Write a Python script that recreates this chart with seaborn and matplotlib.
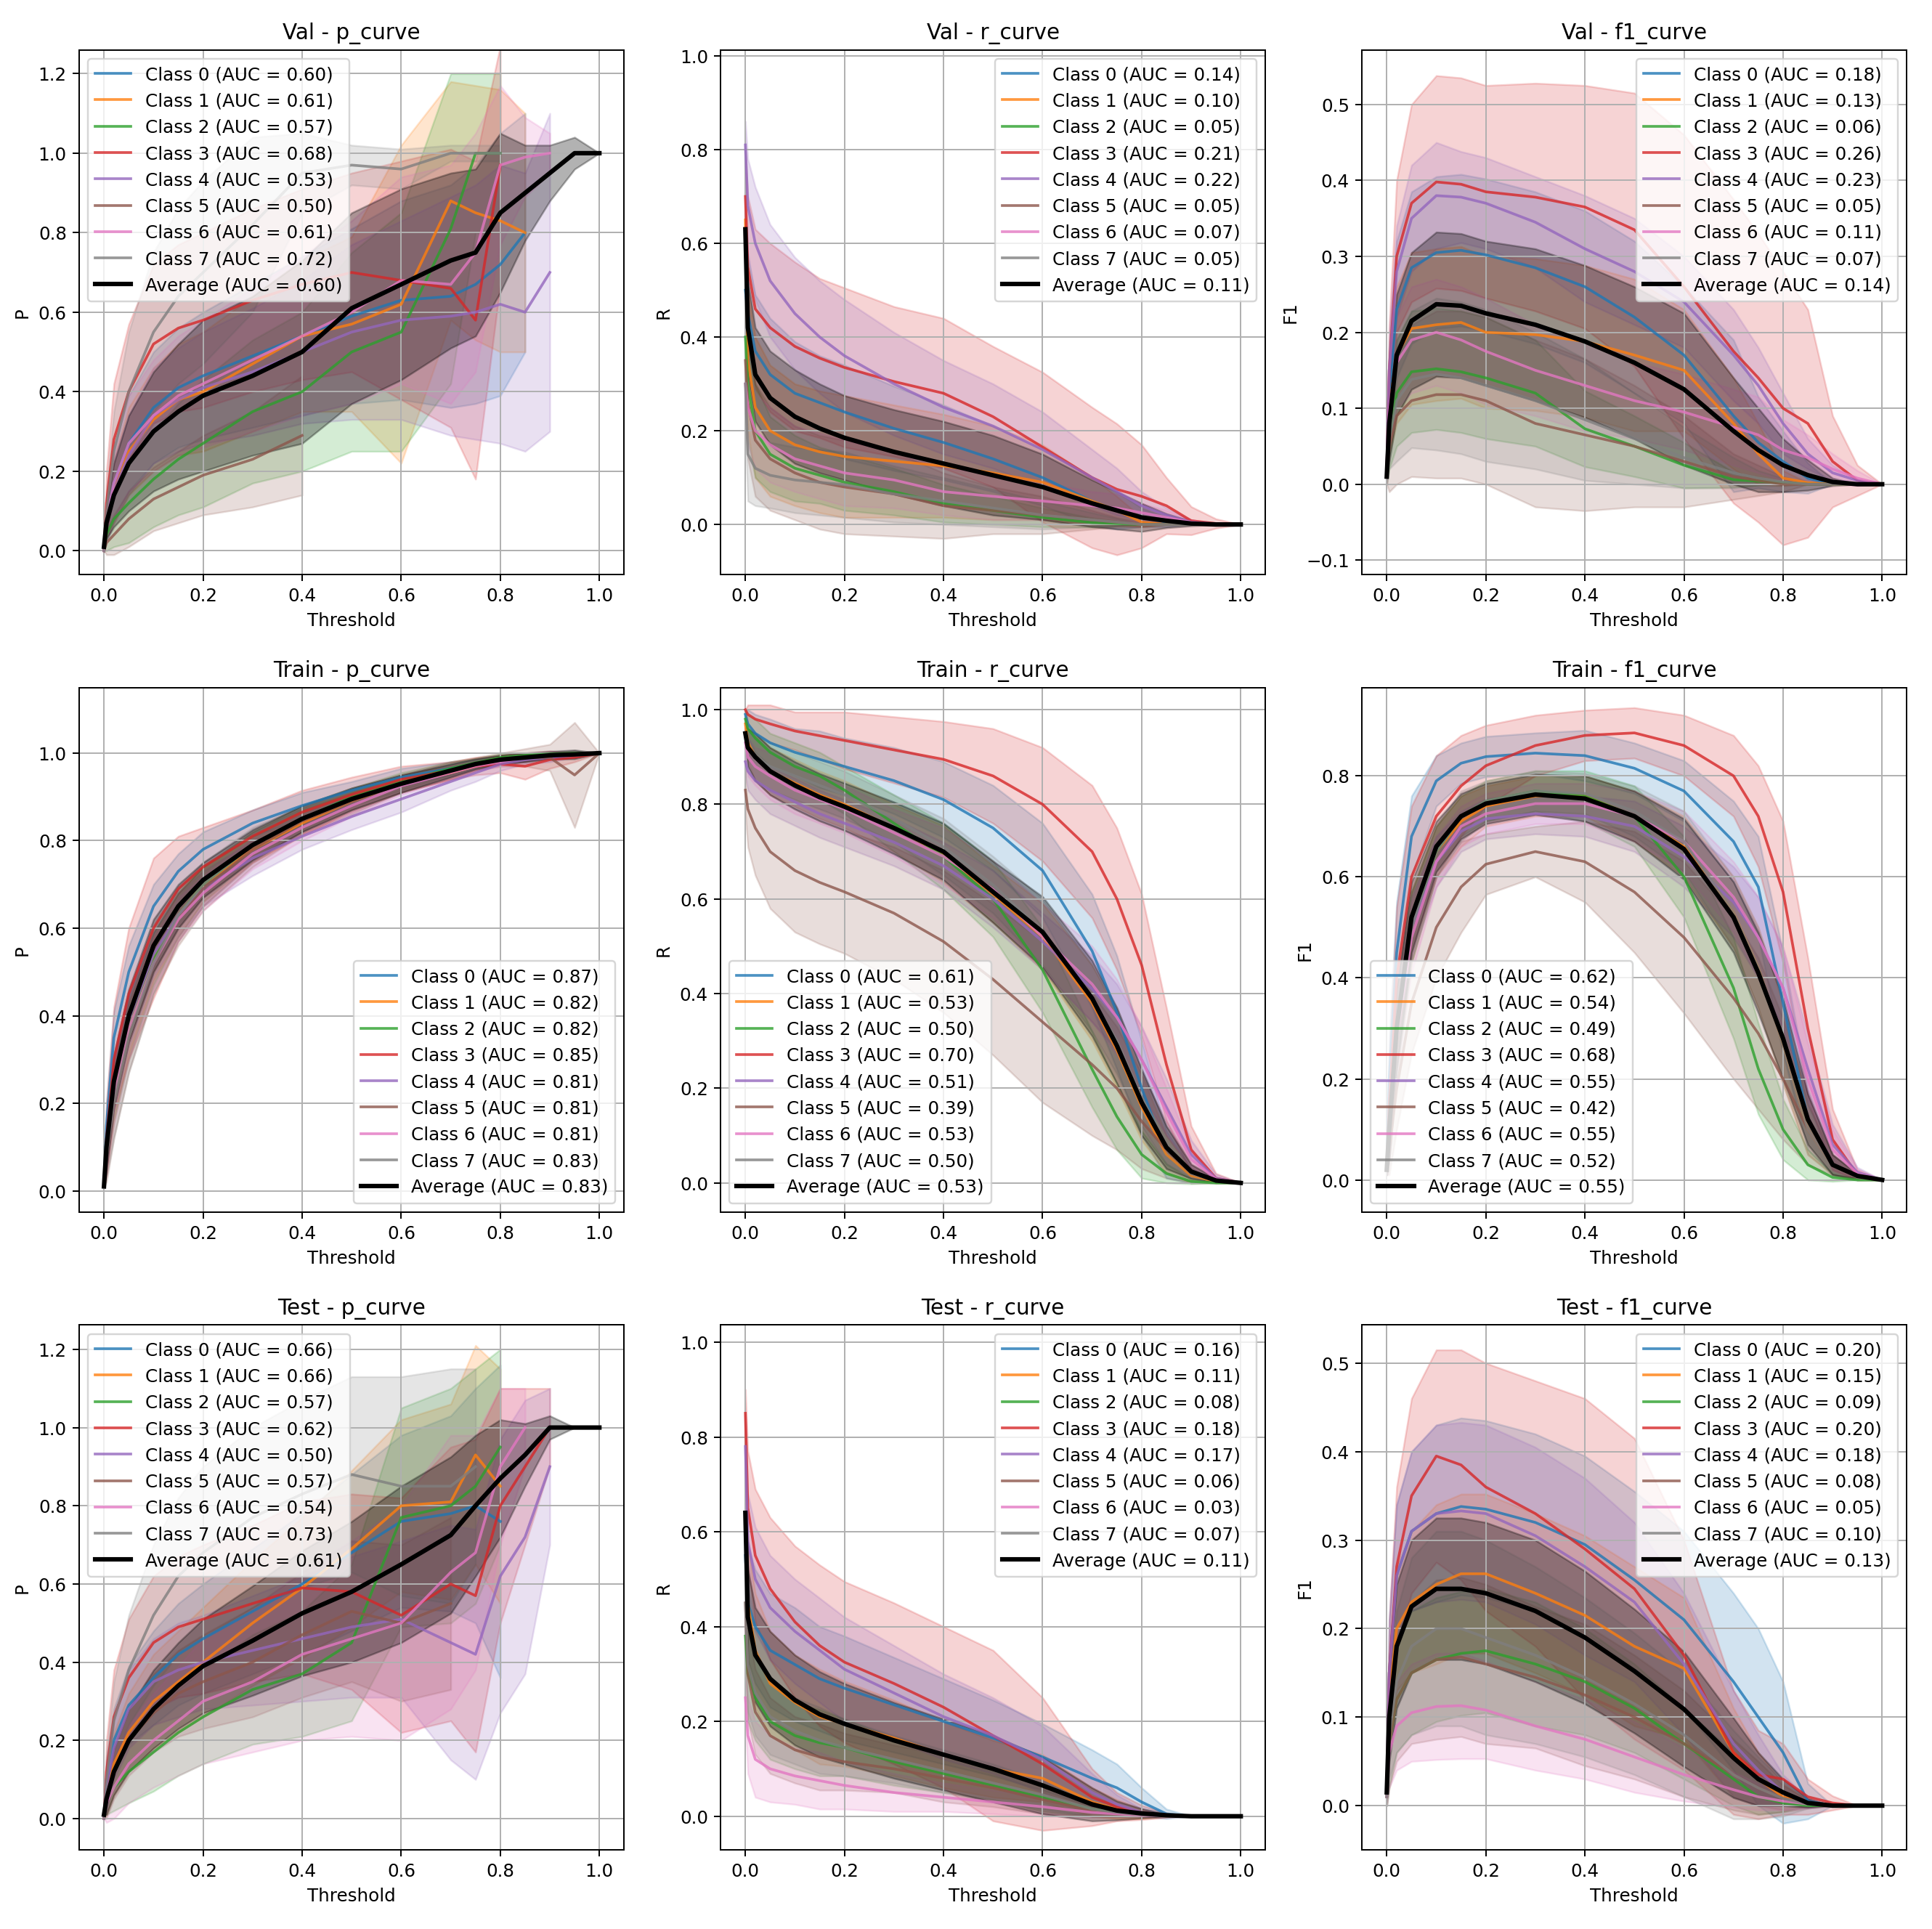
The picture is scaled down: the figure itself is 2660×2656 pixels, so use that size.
import numpy as np
import matplotlib
matplotlib.use("Agg")
import matplotlib.pyplot as plt
import seaborn as sns

nan = np.nan

# threshold grid shared by every curve
thresholds = [0, 0.005, 0.02, 0.05, 0.1, 0.15, 0.2, 0.3, 0.4, 0.5, 0.6, 0.7, 0.75, 0.8, 0.85, 0.9, 0.95, 1.0]
splits = ["Val", "Train", "Test"]
curves = ["p_curve", "r_curve", "f1_curve"]
ylabels = ["P", "R", "F1"]

# ---------------- Val ----------------
val_p_auc = [0.60, 0.61, 0.57, 0.68, 0.53, 0.50, 0.61, 0.72, 0.60]
val_p_mean = [
    [0.0, 0.08, 0.17, 0.27, 0.36, 0.41, 0.44, 0.49, 0.54, 0.59, 0.63, 0.64, 0.67, 0.72, 0.80, nan, nan, nan],
    [0.0, 0.07, 0.15, 0.25, 0.33, 0.38, 0.40, 0.47, 0.54, 0.57, 0.62, 0.88, 0.85, 0.83, 0.80, nan, nan, nan],
    [0.0, 0.04, 0.08, 0.12, 0.18, 0.23, 0.27, 0.35, 0.40, 0.50, 0.55, 0.81, 1.0, 1.0, nan, nan, nan, nan],
    [0.0, 0.12, 0.28, 0.40, 0.52, 0.56, 0.58, 0.63, 0.67, 0.70, 0.68, 0.66, 0.58, 0.97, nan, nan, nan, nan],
    [0.0, 0.07, 0.15, 0.24, 0.34, 0.38, 0.41, 0.45, 0.50, 0.55, 0.58, 0.59, 0.60, 0.62, 0.60, 0.70, nan, nan],
    [0.0, 0.02, 0.04, 0.08, 0.13, 0.16, 0.19, 0.23, 0.29, nan, nan, nan, nan, nan, nan, nan, nan, nan],
    [0.0, 0.08, 0.17, 0.27, 0.34, 0.39, 0.42, 0.48, 0.54, 0.60, 0.68, 0.67, 0.75, 0.97, 0.99, 1.0, nan, nan],
    [0.0, 0.10, 0.25, 0.40, 0.55, 0.64, 0.70, 0.82, 0.95, 0.97, 0.96, 1.0, 1.0, 1.0, nan, nan, nan, nan],
    [0.01, 0.07, 0.14, 0.22, 0.30, 0.35, 0.39, 0.44, 0.50, 0.61, 0.67, 0.73, 0.75, 0.85, 0.90, 0.95, 1.0, 1.0],
]
val_p_std = [
    [0.0, 0.05, 0.09, 0.12, 0.14, 0.15, 0.16, 0.18, 0.20, 0.22, 0.25, 0.28, 0.30, 0.33, 0.30, 0, 0, 0],
    [0.0, 0.04, 0.08, 0.11, 0.13, 0.14, 0.15, 0.17, 0.19, 0.22, 0.40, 0.30, 0.32, 0.33, 0.30, 0, 0, 0],
    [0.0, 0.04, 0.07, 0.10, 0.12, 0.14, 0.16, 0.18, 0.20, 0.25, 0.30, 0.39, 0.20, 0.20, 0, 0, 0, 0],
    [0.0, 0.08, 0.14, 0.17, 0.20, 0.21, 0.22, 0.23, 0.24, 0.25, 0.30, 0.35, 0.40, 0.30, 0, 0, 0, 0],
    [0.0, 0.05, 0.08, 0.10, 0.12, 0.13, 0.14, 0.16, 0.18, 0.22, 0.25, 0.30, 0.32, 0.35, 0.35, 0.40, 0, 0],
    [0.0, 0.03, 0.05, 0.07, 0.08, 0.09, 0.10, 0.12, 0.15, 0, 0, 0, 0, 0, 0, 0, 0, 0],
    [0.0, 0.05, 0.09, 0.12, 0.14, 0.15, 0.16, 0.18, 0.20, 0.23, 0.26, 0.30, 0.30, 0.20, 0.10, 0.05, 0, 0],
    [0.0, 0.05, 0.10, 0.15, 0.20, 0.22, 0.23, 0.22, 0.10, 0.05, 0.05, 0.02, 0.02, 0.02, 0, 0, 0, 0],
    [0.0, 0.04, 0.08, 0.12, 0.15, 0.17, 0.19, 0.20, 0.23, 0.24, 0.24, 0.22, 0.21, 0.20, 0.12, 0.07, 0.04, 0.0],
]

val_r_auc = [0.14, 0.10, 0.05, 0.21, 0.22, 0.05, 0.07, 0.05, 0.11]
val_r_mean = [
    [0.50, 0.45, 0.37, 0.32, 0.28, 0.26, 0.24, 0.205, 0.175, 0.14, 0.10, 0.05, 0.03, 0.015, 0.005, 0, 0, 0],
    [0.65, 0.35, 0.25, 0.20, 0.17, 0.155, 0.145, 0.135, 0.125, 0.11, 0.09, 0.05, 0.03, 0.005, 0, 0, 0, 0],
    [0.40, 0.30, 0.20, 0.15, 0.12, 0.105, 0.09, 0.07, 0.045, 0.03, 0.015, 0.004, 0.002, 0, 0, 0, 0, 0],
    [0.70, 0.55, 0.46, 0.42, 0.38, 0.355, 0.335, 0.305, 0.28, 0.23, 0.165, 0.10, 0.075, 0.06, 0.04, 0.008, 0.002, 0],
    [0.81, 0.68, 0.60, 0.52, 0.45, 0.40, 0.36, 0.30, 0.25, 0.21, 0.16, 0.10, 0.07, 0.04, 0.02, 0.005, 0.001, 0],
    [0.35, 0.26, 0.18, 0.14, 0.11, 0.09, 0.08, 0.065, 0.04, 0.03, 0.02, 0.01, 0.005, 0, 0, 0, 0, 0],
    [0.30, 0.25, 0.20, 0.17, 0.14, 0.125, 0.11, 0.095, 0.07, 0.06, 0.05, 0.04, 0.035, 0.025, 0.015, 0.005, 0.001, 0],
    [0.30, 0.15, 0.12, 0.105, 0.095, 0.09, 0.085, 0.065, 0.05, 0.035, 0.02, 0.01, 0.005, 0, 0, 0, 0, 0],
    [0.63, 0.42, 0.32, 0.27, 0.23, 0.205, 0.185, 0.155, 0.13, 0.105, 0.08, 0.045, 0.03, 0.015, 0.008, 0.002, 0, 0],
]
val_r_std = [
    [0.10, 0.12, 0.12, 0.12, 0.11, 0.10, 0.10, 0.09, 0.08, 0.07, 0.06, 0.05, 0.04, 0.02, 0.01, 0, 0, 0],
    [0.10, 0.15, 0.15, 0.14, 0.13, 0.13, 0.13, 0.12, 0.11, 0.10, 0.08, 0.05, 0.03, 0.01, 0, 0, 0, 0],
    [0.10, 0.12, 0.10, 0.08, 0.07, 0.06, 0.06, 0.05, 0.04, 0.03, 0.02, 0.01, 0.005, 0, 0, 0, 0, 0],
    [0.10, 0.15, 0.17, 0.18, 0.18, 0.17, 0.17, 0.16, 0.16, 0.15, 0.16, 0.15, 0.14, 0.11, 0.06, 0.03, 0.01, 0],
    [0.05, 0.10, 0.12, 0.12, 0.12, 0.12, 0.12, 0.11, 0.10, 0.09, 0.08, 0.06, 0.05, 0.03, 0.015, 0.005, 0, 0],
    [0.10, 0.12, 0.12, 0.11, 0.10, 0.10, 0.10, 0.09, 0.07, 0.05, 0.04, 0.02, 0.01, 0.005, 0, 0, 0, 0],
    [0.05, 0.08, 0.08, 0.08, 0.07, 0.07, 0.07, 0.06, 0.05, 0.05, 0.04, 0.03, 0.03, 0.02, 0.015, 0.005, 0, 0],
    [0.10, 0.10, 0.08, 0.07, 0.07, 0.07, 0.07, 0.06, 0.05, 0.04, 0.03, 0.015, 0.008, 0, 0, 0, 0, 0],
    [0.0, 0.10, 0.10, 0.10, 0.10, 0.095, 0.09, 0.09, 0.09, 0.085, 0.07, 0.05, 0.04, 0.03, 0.015, 0.005, 0, 0],
]

val_f1_auc = [0.18, 0.13, 0.06, 0.26, 0.23, 0.05, 0.11, 0.07, 0.14]
val_f1_mean = [
    [0.02, 0.12, 0.23, 0.285, 0.305, 0.308, 0.302, 0.285, 0.26, 0.22, 0.17, 0.09, 0.055, 0.03, 0.008, 0, 0, 0],
    [0.02, 0.10, 0.17, 0.205, 0.21, 0.213, 0.20, 0.197, 0.188, 0.17, 0.15, 0.08, 0.04, 0.008, 0.002, 0, 0, 0],
    [0.01, 0.06, 0.12, 0.148, 0.152, 0.148, 0.14, 0.12, 0.073, 0.05, 0.025, 0.006, 0.004, 0.002, 0, 0, 0, 0],
    [0.02, 0.15, 0.30, 0.37, 0.398, 0.395, 0.385, 0.378, 0.365, 0.335, 0.26, 0.175, 0.14, 0.10, 0.08, 0.03, 0.005, 0],
    [0.02, 0.15, 0.28, 0.35, 0.38, 0.378, 0.37, 0.345, 0.31, 0.28, 0.24, 0.17, 0.13, 0.08, 0.04, 0.015, 0.005, 0],
    [0.01, 0.05, 0.09, 0.11, 0.118, 0.118, 0.11, 0.08, 0.065, 0.05, 0.03, 0.01, 0.005, 0, 0, 0, 0, 0],
    [0.01, 0.10, 0.16, 0.19, 0.20, 0.19, 0.175, 0.15, 0.13, 0.11, 0.095, 0.075, 0.065, 0.045, 0.035, 0.02, 0.008, 0],
    [0.01, 0.06, 0.11, 0.138, 0.145, 0.14, 0.13, 0.11, 0.085, 0.06, 0.035, 0.015, 0.008, 0.003, 0, 0, 0, 0],
    [0.01, 0.08, 0.17, 0.215, 0.237, 0.235, 0.225, 0.21, 0.188, 0.16, 0.125, 0.07, 0.045, 0.025, 0.012, 0.003, 0, 0],
]
val_f1_std = [
    [0.01, 0.06, 0.09, 0.10, 0.10, 0.10, 0.10, 0.10, 0.10, 0.10, 0.09, 0.10, 0.06, 0.04, 0.02, 0, 0, 0],
    [0.01, 0.06, 0.09, 0.10, 0.10, 0.10, 0.10, 0.10, 0.10, 0.10, 0.08, 0.06, 0.04, 0.01, 0, 0, 0, 0],
    [0.01, 0.04, 0.07, 0.08, 0.08, 0.08, 0.08, 0.07, 0.05, 0.04, 0.03, 0.01, 0.005, 0, 0, 0, 0, 0],
    [0.01, 0.06, 0.10, 0.13, 0.14, 0.14, 0.14, 0.15, 0.16, 0.18, 0.20, 0.20, 0.19, 0.18, 0.15, 0.06, 0.02, 0],
    [0.01, 0.05, 0.06, 0.07, 0.07, 0.06, 0.06, 0.06, 0.07, 0.07, 0.06, 0.06, 0.05, 0.04, 0.02, 0.01, 0, 0],
    [0.01, 0.06, 0.09, 0.10, 0.11, 0.11, 0.11, 0.11, 0.10, 0.08, 0.06, 0.03, 0.02, 0.01, 0, 0, 0, 0],
    [0.01, 0.05, 0.06, 0.07, 0.07, 0.07, 0.07, 0.06, 0.06, 0.05, 0.05, 0.05, 0.05, 0.04, 0.03, 0.02, 0.01, 0],
    [0.01, 0.04, 0.08, 0.09, 0.10, 0.10, 0.10, 0.09, 0.08, 0.06, 0.04, 0.02, 0.01, 0.005, 0, 0, 0, 0],
    [0.0, 0.05, 0.08, 0.09, 0.095, 0.095, 0.095, 0.10, 0.10, 0.10, 0.10, 0.07, 0.055, 0.035, 0.02, 0.005, 0, 0],
]

# ---------------- Train ----------------
train_p_auc = [0.87, 0.82, 0.82, 0.85, 0.81, 0.81, 0.81, 0.83, 0.83]
train_p_mean = [
    [0.01, 0.15, 0.35, 0.50, 0.65, 0.73, 0.78, 0.84, 0.88, 0.915, 0.945, 0.965, 0.975, 0.985, 0.99, 0.995, 0.998, 1.0],
    [0.01, 0.09, 0.22, 0.37, 0.53, 0.63, 0.70, 0.78, 0.84, 0.89, 0.93, 0.955, 0.97, 0.985, 0.99, 0.995, 0.998, 1.0],
    [0.01, 0.09, 0.22, 0.37, 0.53, 0.63, 0.70, 0.79, 0.85, 0.90, 0.935, 0.965, 0.978, 0.99, 0.995, 0.998, 1.0, 1.0],
    [0.01, 0.12, 0.30, 0.45, 0.60, 0.69, 0.74, 0.81, 0.865, 0.905, 0.94, 0.96, 0.97, 0.975, 0.97, 0.985, 0.99, 1.0],
    [0.01, 0.10, 0.24, 0.39, 0.54, 0.63, 0.69, 0.76, 0.81, 0.855, 0.895, 0.935, 0.955, 0.975, 0.985, 0.99, 0.995, 1.0],
    [0.01, 0.08, 0.20, 0.35, 0.52, 0.62, 0.69, 0.78, 0.845, 0.89, 0.93, 0.96, 0.975, 0.985, 0.99, 0.99, 0.95, 1.0],
    [0.01, 0.09, 0.22, 0.37, 0.52, 0.62, 0.68, 0.77, 0.83, 0.88, 0.925, 0.955, 0.97, 0.98, 0.99, 0.995, 0.998, 1.0],
    [0.01, 0.08, 0.20, 0.35, 0.52, 0.63, 0.70, 0.79, 0.85, 0.895, 0.93, 0.96, 0.975, 0.985, 0.99, 0.995, 0.997, 1.0],
    [0.01, 0.10, 0.25, 0.40, 0.56, 0.65, 0.71, 0.79, 0.85, 0.895, 0.93, 0.96, 0.975, 0.985, 0.99, 0.995, 0.997, 1.0],
]
train_p_std = [
    [0.0, 0.05, 0.06, 0.06, 0.05, 0.04, 0.04, 0.03, 0.03, 0.02, 0.02, 0.015, 0.01, 0.01, 0.01, 0.005, 0.005, 0],
    [0.0, 0.05, 0.06, 0.06, 0.05, 0.05, 0.04, 0.03, 0.03, 0.02, 0.02, 0.015, 0.01, 0.01, 0.01, 0.005, 0.005, 0],
    [0.0, 0.04, 0.06, 0.07, 0.06, 0.05, 0.04, 0.03, 0.03, 0.02, 0.02, 0.015, 0.01, 0.008, 0.005, 0.003, 0.002, 0],
    [0.0, 0.08, 0.12, 0.15, 0.16, 0.12, 0.09, 0.06, 0.05, 0.04, 0.03, 0.02, 0.02, 0.02, 0.03, 0.02, 0.01, 0],
    [0.0, 0.05, 0.06, 0.06, 0.05, 0.05, 0.04, 0.04, 0.03, 0.03, 0.03, 0.02, 0.02, 0.015, 0.01, 0.01, 0.005, 0],
    [0.0, 0.06, 0.08, 0.08, 0.07, 0.06, 0.05, 0.04, 0.03, 0.03, 0.02, 0.02, 0.015, 0.015, 0.02, 0.03, 0.12, 0],
    [0.0, 0.05, 0.07, 0.07, 0.06, 0.05, 0.04, 0.035, 0.03, 0.025, 0.02, 0.015, 0.01, 0.01, 0.01, 0.008, 0.005, 0],
    [0.0, 0.05, 0.08, 0.08, 0.07, 0.06, 0.05, 0.04, 0.03, 0.025, 0.02, 0.015, 0.01, 0.01, 0.01, 0.01, 0.01, 0],
    [0.0, 0.05, 0.06, 0.06, 0.06, 0.05, 0.04, 0.035, 0.03, 0.025, 0.02, 0.015, 0.012, 0.01, 0.01, 0.008, 0.01, 0],
]

train_r_auc = [0.61, 0.53, 0.50, 0.70, 0.51, 0.39, 0.53, 0.50, 0.53]
train_r_mean = [
    [0.99, 0.97, 0.95, 0.93, 0.91, 0.895, 0.88, 0.85, 0.81, 0.75, 0.66, 0.49, 0.36, 0.20, 0.06, 0.015, 0.003, 0],
    [0.97, 0.93, 0.90, 0.87, 0.845, 0.82, 0.80, 0.75, 0.695, 0.61, 0.52, 0.38, 0.28, 0.16, 0.06, 0.015, 0.003, 0],
    [0.98, 0.96, 0.94, 0.91, 0.88, 0.86, 0.83, 0.76, 0.69, 0.60, 0.45, 0.24, 0.14, 0.06, 0.02, 0.003, 0, 0],
    [1.0, 0.99, 0.98, 0.97, 0.955, 0.945, 0.935, 0.915, 0.895, 0.86, 0.80, 0.70, 0.60, 0.46, 0.25, 0.07, 0.01, 0],
    [0.89, 0.87, 0.85, 0.83, 0.805, 0.78, 0.76, 0.72, 0.67, 0.60, 0.51, 0.41, 0.35, 0.26, 0.16, 0.06, 0.01, 0],
    [0.83, 0.79, 0.75, 0.70, 0.66, 0.635, 0.615, 0.57, 0.51, 0.43, 0.34, 0.25, 0.20, 0.13, 0.07, 0.02, 0.005, 0],
    [0.93, 0.90, 0.88, 0.86, 0.83, 0.81, 0.79, 0.74, 0.69, 0.62, 0.52, 0.42, 0.35, 0.26, 0.15, 0.05, 0.008, 0],
    [0.95, 0.92, 0.90, 0.88, 0.86, 0.84, 0.82, 0.77, 0.71, 0.63, 0.53, 0.39, 0.30, 0.18, 0.08, 0.02, 0.004, 0],
    [0.95, 0.92, 0.90, 0.87, 0.84, 0.815, 0.795, 0.75, 0.70, 0.615, 0.53, 0.39, 0.29, 0.17, 0.075, 0.024, 0.005, 0],
]
train_r_std = [
    [0.01, 0.03, 0.04, 0.05, 0.05, 0.06, 0.06, 0.07, 0.08, 0.09, 0.10, 0.12, 0.12, 0.10, 0.05, 0.015, 0.003, 0],
    [0.02, 0.04, 0.05, 0.05, 0.05, 0.05, 0.05, 0.05, 0.06, 0.06, 0.07, 0.08, 0.08, 0.07, 0.04, 0.015, 0.003, 0],
    [0.02, 0.03, 0.04, 0.04, 0.05, 0.05, 0.05, 0.06, 0.07, 0.08, 0.09, 0.08, 0.07, 0.05, 0.02, 0.005, 0, 0],
    [0.0, 0.02, 0.03, 0.04, 0.04, 0.05, 0.06, 0.07, 0.08, 0.10, 0.12, 0.14, 0.15, 0.15, 0.12, 0.05, 0.01, 0],
    [0.03, 0.04, 0.04, 0.05, 0.05, 0.05, 0.05, 0.05, 0.05, 0.06, 0.06, 0.07, 0.07, 0.07, 0.06, 0.03, 0.008, 0],
    [0.05, 0.08, 0.10, 0.12, 0.13, 0.13, 0.13, 0.14, 0.15, 0.16, 0.17, 0.15, 0.13, 0.10, 0.06, 0.02, 0.005, 0],
    [0.03, 0.04, 0.04, 0.05, 0.05, 0.05, 0.05, 0.05, 0.06, 0.06, 0.07, 0.08, 0.08, 0.07, 0.05, 0.02, 0.005, 0],
    [0.02, 0.04, 0.05, 0.05, 0.05, 0.05, 0.05, 0.05, 0.06, 0.06, 0.07, 0.07, 0.07, 0.06, 0.04, 0.01, 0.003, 0],
    [0.02, 0.04, 0.05, 0.05, 0.05, 0.05, 0.05, 0.055, 0.06, 0.065, 0.075, 0.08, 0.08, 0.07, 0.045, 0.015, 0.004, 0],
]

train_f1_auc = [0.62, 0.54, 0.49, 0.68, 0.55, 0.42, 0.55, 0.52, 0.55]
train_f1_mean = [
    [0.02, 0.20, 0.45, 0.68, 0.79, 0.825, 0.838, 0.845, 0.84, 0.815, 0.77, 0.67, 0.58, 0.35, 0.12, 0.03, 0.005, 0],
    [0.02, 0.10, 0.30, 0.50, 0.65, 0.71, 0.74, 0.76, 0.76, 0.72, 0.66, 0.53, 0.42, 0.27, 0.10, 0.03, 0.005, 0],
    [0.02, 0.10, 0.28, 0.50, 0.65, 0.72, 0.75, 0.77, 0.76, 0.72, 0.60, 0.38, 0.22, 0.10, 0.03, 0.005, 0, 0],
    [0.02, 0.15, 0.40, 0.60, 0.72, 0.78, 0.82, 0.86, 0.88, 0.885, 0.86, 0.80, 0.72, 0.57, 0.30, 0.08, 0.01, 0],
    [0.02, 0.10, 0.30, 0.50, 0.63, 0.69, 0.715, 0.725, 0.72, 0.70, 0.64, 0.55, 0.48, 0.38, 0.22, 0.07, 0.015, 0],
    [0.02, 0.06, 0.18, 0.35, 0.50, 0.58, 0.625, 0.65, 0.63, 0.57, 0.48, 0.36, 0.29, 0.20, 0.10, 0.03, 0.005, 0],
    [0.02, 0.10, 0.28, 0.48, 0.63, 0.70, 0.725, 0.745, 0.745, 0.72, 0.67, 0.56, 0.48, 0.38, 0.20, 0.06, 0.012, 0],
    [0.02, 0.10, 0.30, 0.50, 0.65, 0.72, 0.75, 0.77, 0.765, 0.73, 0.67, 0.53, 0.42, 0.27, 0.10, 0.03, 0.005, 0],
    [0.02, 0.10, 0.30, 0.52, 0.66, 0.72, 0.745, 0.763, 0.755, 0.72, 0.655, 0.52, 0.41, 0.28, 0.12, 0.03, 0.008, 0],
]
train_f1_std = [
    [0.01, 0.08, 0.10, 0.08, 0.05, 0.04, 0.04, 0.04, 0.05, 0.05, 0.06, 0.08, 0.10, 0.10, 0.06, 0.02, 0.005, 0],
    [0.01, 0.06, 0.08, 0.07, 0.05, 0.05, 0.04, 0.04, 0.04, 0.05, 0.06, 0.07, 0.08, 0.08, 0.05, 0.02, 0.005, 0],
    [0.01, 0.06, 0.08, 0.07, 0.05, 0.04, 0.04, 0.04, 0.05, 0.06, 0.08, 0.10, 0.09, 0.06, 0.03, 0.008, 0, 0],
    [0.01, 0.10, 0.14, 0.14, 0.12, 0.10, 0.08, 0.06, 0.05, 0.05, 0.06, 0.08, 0.10, 0.14, 0.14, 0.06, 0.01, 0],
    [0.01, 0.06, 0.08, 0.06, 0.05, 0.04, 0.04, 0.04, 0.04, 0.05, 0.06, 0.07, 0.08, 0.08, 0.07, 0.04, 0.01, 0],
    [0.01, 0.05, 0.08, 0.10, 0.10, 0.09, 0.06, 0.05, 0.08, 0.12, 0.15, 0.16, 0.15, 0.12, 0.07, 0.02, 0.005, 0],
    [0.01, 0.06, 0.08, 0.07, 0.05, 0.04, 0.04, 0.04, 0.04, 0.05, 0.06, 0.07, 0.08, 0.08, 0.07, 0.04, 0.01, 0],
    [0.01, 0.06, 0.08, 0.07, 0.05, 0.05, 0.04, 0.04, 0.04, 0.05, 0.06, 0.07, 0.08, 0.08, 0.05, 0.02, 0.005, 0],
    [0.01, 0.06, 0.08, 0.07, 0.05, 0.045, 0.04, 0.04, 0.045, 0.05, 0.06, 0.07, 0.08, 0.08, 0.05, 0.02, 0.005, 0],
]

# ---------------- Test ----------------
test_p_auc = [0.66, 0.66, 0.57, 0.62, 0.50, 0.57, 0.54, 0.73, 0.61]
test_p_mean = [
    [0.0, 0.10, 0.20, 0.29, 0.36, 0.42, 0.46, 0.53, 0.60, 0.68, 0.76, 0.78, 0.80, 0.76, nan, nan, nan, nan],
    [0.0, 0.06, 0.14, 0.22, 0.30, 0.35, 0.40, 0.50, 0.59, 0.69, 0.80, 0.81, 0.93, 0.85, nan, nan, nan, nan],
    [0.0, 0.05, 0.08, 0.12, 0.17, 0.22, 0.26, 0.33, 0.37, 0.45, 0.77, 0.80, 0.85, 0.95, nan, nan, nan, nan],
    [0.0, 0.12, 0.26, 0.36, 0.45, 0.49, 0.51, 0.55, 0.59, 0.58, 0.52, 0.60, 0.57, 0.80, 0.90, 1.0, nan, nan],
    [0.0, 0.08, 0.18, 0.28, 0.35, 0.38, 0.40, 0.43, 0.46, 0.49, 0.51, 0.45, 0.42, 0.62, 0.72, 0.90, nan, nan],
    [0.0, 0.05, 0.12, 0.20, 0.27, 0.32, 0.35, 0.40, 0.47, 0.53, 0.50, 0.55, nan, nan, nan, nan, nan, nan],
    [0.0, 0.04, 0.08, 0.14, 0.20, 0.25, 0.30, 0.35, 0.42, 0.46, 0.50, 0.63, 0.68, 0.90, 1.0, nan, nan, nan],
    [0.0, 0.10, 0.25, 0.38, 0.52, 0.62, 0.68, 0.77, 0.83, 0.88, 0.85, 0.85, 0.90, nan, nan, nan, nan, nan],
    [0.01, 0.05, 0.12, 0.20, 0.28, 0.34, 0.39, 0.455, 0.525, 0.58, 0.65, 0.725, 0.80, 0.87, 0.93, 1.0, 1.0, 1.0],
]
test_p_std = [
    [0.0, 0.05, 0.08, 0.10, 0.12, 0.13, 0.14, 0.16, 0.18, 0.20, 0.22, 0.25, 0.30, 0.40, 0, 0, 0, 0],
    [0.0, 0.05, 0.08, 0.10, 0.12, 0.13, 0.14, 0.16, 0.18, 0.20, 0.22, 0.25, 0.28, 0.30, 0, 0, 0, 0],
    [0.0, 0.04, 0.06, 0.08, 0.10, 0.11, 0.12, 0.14, 0.16, 0.20, 0.28, 0.30, 0.30, 0.25, 0, 0, 0, 0],
    [0.0, 0.08, 0.12, 0.15, 0.17, 0.18, 0.19, 0.20, 0.22, 0.25, 0.30, 0.35, 0.40, 0.30, 0.20, 0.10, 0, 0],
    [0.0, 0.06, 0.08, 0.10, 0.11, 0.12, 0.12, 0.14, 0.16, 0.18, 0.20, 0.30, 0.32, 0.35, 0.35, 0.20, 0, 0],
    [0.0, 0.05, 0.07, 0.09, 0.10, 0.11, 0.12, 0.14, 0.16, 0.18, 0.20, 0.22, 0, 0, 0, 0, 0, 0],
    [0.0, 0.05, 0.08, 0.10, 0.12, 0.14, 0.16, 0.18, 0.22, 0.25, 0.30, 0.35, 0.30, 0.20, 0.10, 0, 0, 0],
    [0.0, 0.06, 0.10, 0.14, 0.18, 0.20, 0.22, 0.23, 0.24, 0.25, 0.28, 0.30, 0.25, 0, 0, 0, 0, 0],
    [0.0, 0.04, 0.06, 0.08, 0.10, 0.11, 0.12, 0.14, 0.16, 0.18, 0.20, 0.20, 0.18, 0.15, 0.08, 0.03, 0.0, 0.0],
]

test_r_auc = [0.16, 0.11, 0.08, 0.18, 0.17, 0.06, 0.03, 0.07, 0.11]
test_r_mean = [
    [0.55, 0.45, 0.40, 0.35, 0.32, 0.29, 0.27, 0.235, 0.20, 0.165, 0.125, 0.08, 0.06, 0.03, 0.005, 0, 0, 0],
    [0.60, 0.45, 0.35, 0.28, 0.24, 0.21, 0.195, 0.165, 0.13, 0.10, 0.08, 0.03, 0.015, 0.005, 0, 0, 0, 0],
    [0.38, 0.30, 0.25, 0.20, 0.17, 0.155, 0.145, 0.115, 0.09, 0.065, 0.04, 0.015, 0.008, 0.003, 0, 0, 0, 0],
    [0.85, 0.65, 0.55, 0.48, 0.41, 0.36, 0.325, 0.28, 0.23, 0.17, 0.11, 0.04, 0.02, 0.008, 0.002, 0, 0, 0],
    [0.78, 0.58, 0.50, 0.44, 0.39, 0.35, 0.31, 0.26, 0.21, 0.17, 0.12, 0.05, 0.025, 0.008, 0.002, 0, 0, 0],
    [0.45, 0.30, 0.22, 0.17, 0.14, 0.125, 0.115, 0.10, 0.08, 0.06, 0.035, 0.012, 0.006, 0.002, 0, 0, 0, 0],
    [0.25, 0.17, 0.12, 0.10, 0.085, 0.075, 0.065, 0.05, 0.04, 0.03, 0.02, 0.008, 0.005, 0.002, 0, 0, 0, 0],
    [0.45, 0.32, 0.26, 0.21, 0.18, 0.16, 0.145, 0.12, 0.095, 0.07, 0.045, 0.015, 0.008, 0.003, 0, 0, 0, 0],
    [0.64, 0.42, 0.34, 0.29, 0.245, 0.215, 0.195, 0.16, 0.13, 0.10, 0.065, 0.025, 0.012, 0.006, 0.002, 0, 0, 0],
]
test_r_std = [
    [0.10, 0.12, 0.12, 0.12, 0.12, 0.11, 0.11, 0.10, 0.09, 0.08, 0.07, 0.06, 0.05, 0.03, 0.01, 0, 0, 0],
    [0.10, 0.12, 0.12, 0.11, 0.10, 0.10, 0.09, 0.08, 0.07, 0.06, 0.05, 0.03, 0.02, 0.01, 0, 0, 0, 0],
    [0.10, 0.10, 0.09, 0.08, 0.07, 0.07, 0.06, 0.05, 0.04, 0.03, 0.03, 0.015, 0.008, 0.003, 0, 0, 0, 0],
    [0.05, 0.12, 0.14, 0.15, 0.16, 0.17, 0.17, 0.17, 0.17, 0.18, 0.14, 0.06, 0.03, 0.015, 0.005, 0, 0, 0],
    [0.05, 0.10, 0.11, 0.11, 0.11, 0.11, 0.11, 0.10, 0.09, 0.08, 0.07, 0.04, 0.02, 0.008, 0.002, 0, 0, 0],
    [0.10, 0.10, 0.09, 0.08, 0.07, 0.07, 0.06, 0.05, 0.05, 0.04, 0.03, 0.012, 0.006, 0.002, 0, 0, 0, 0],
    [0.05, 0.08, 0.08, 0.07, 0.06, 0.06, 0.05, 0.04, 0.03, 0.025, 0.02, 0.01, 0.006, 0.003, 0, 0, 0, 0],
    [0.10, 0.10, 0.09, 0.08, 0.07, 0.07, 0.06, 0.05, 0.045, 0.04, 0.03, 0.015, 0.008, 0.003, 0, 0, 0, 0],
    [0.0, 0.10, 0.10, 0.10, 0.095, 0.09, 0.085, 0.08, 0.075, 0.07, 0.06, 0.035, 0.02, 0.01, 0.003, 0, 0, 0],
]

test_f1_auc = [0.20, 0.15, 0.09, 0.20, 0.18, 0.08, 0.05, 0.10, 0.13]
test_f1_mean = [
    [0.02, 0.15, 0.26, 0.31, 0.33, 0.338, 0.335, 0.32, 0.295, 0.255, 0.21, 0.14, 0.10, 0.06, 0.005, 0, 0, 0],
    [0.02, 0.12, 0.20, 0.23, 0.25, 0.262, 0.262, 0.24, 0.215, 0.18, 0.155, 0.06, 0.03, 0.01, 0.002, 0, 0, 0],
    [0.01, 0.07, 0.12, 0.15, 0.165, 0.172, 0.175, 0.16, 0.14, 0.11, 0.07, 0.03, 0.01, 0.003, 0, 0, 0, 0],
    [0.02, 0.15, 0.27, 0.35, 0.395, 0.385, 0.36, 0.33, 0.29, 0.245, 0.17, 0.06, 0.035, 0.03, 0.01, 0.003, 0, 0],
    [0.02, 0.15, 0.26, 0.31, 0.33, 0.333, 0.33, 0.305, 0.27, 0.23, 0.16, 0.07, 0.04, 0.015, 0.003, 0, 0, 0],
    [0.01, 0.07, 0.12, 0.15, 0.165, 0.168, 0.16, 0.145, 0.125, 0.10, 0.07, 0.035, 0.02, 0.008, 0.002, 0, 0, 0],
    [0.01, 0.06, 0.09, 0.105, 0.112, 0.113, 0.108, 0.09, 0.075, 0.055, 0.035, 0.018, 0.01, 0.005, 0.002, 0, 0, 0],
    [0.01, 0.08, 0.14, 0.18, 0.20, 0.20, 0.19, 0.17, 0.145, 0.115, 0.08, 0.035, 0.02, 0.008, 0.002, 0, 0, 0],
    [0.015, 0.10, 0.18, 0.225, 0.245, 0.245, 0.24, 0.22, 0.19, 0.152, 0.109, 0.054, 0.03, 0.015, 0.003, 0, 0, 0],
]
test_f1_std = [
    [0.01, 0.06, 0.08, 0.09, 0.10, 0.10, 0.10, 0.10, 0.10, 0.10, 0.10, 0.10, 0.10, 0.08, 0.02, 0, 0, 0],
    [0.01, 0.05, 0.07, 0.08, 0.09, 0.09, 0.09, 0.09, 0.09, 0.09, 0.08, 0.05, 0.03, 0.015, 0.003, 0, 0, 0],
    [0.01, 0.05, 0.06, 0.07, 0.07, 0.07, 0.07, 0.07, 0.06, 0.05, 0.04, 0.03, 0.02, 0.01, 0, 0, 0, 0],
    [0.01, 0.06, 0.09, 0.11, 0.12, 0.13, 0.14, 0.15, 0.17, 0.17, 0.13, 0.07, 0.05, 0.04, 0.02, 0.008, 0, 0],
    [0.01, 0.06, 0.08, 0.09, 0.10, 0.10, 0.10, 0.10, 0.10, 0.09, 0.08, 0.06, 0.04, 0.02, 0.005, 0, 0, 0],
    [0.01, 0.05, 0.07, 0.08, 0.09, 0.09, 0.09, 0.08, 0.08, 0.07, 0.06, 0.04, 0.03, 0.015, 0.005, 0, 0, 0],
    [0.01, 0.04, 0.05, 0.055, 0.06, 0.06, 0.055, 0.05, 0.045, 0.04, 0.03, 0.02, 0.015, 0.01, 0.005, 0, 0, 0],
    [0.01, 0.05, 0.08, 0.10, 0.11, 0.11, 0.11, 0.10, 0.09, 0.08, 0.07, 0.05, 0.035, 0.02, 0.005, 0, 0, 0],
    [0.0, 0.05, 0.07, 0.075, 0.08, 0.08, 0.08, 0.08, 0.075, 0.07, 0.065, 0.045, 0.03, 0.015, 0.005, 0, 0, 0],
]

panel_data = [
    [(val_p_mean, val_p_std, val_p_auc), (val_r_mean, val_r_std, val_r_auc), (val_f1_mean, val_f1_std, val_f1_auc)],
    [(train_p_mean, train_p_std, train_p_auc), (train_r_mean, train_r_std, train_r_auc), (train_f1_mean, train_f1_std, train_f1_auc)],
    [(test_p_mean, test_p_std, test_p_auc), (test_r_mean, test_r_std, test_r_auc), (test_f1_mean, test_f1_std, test_f1_auc)],
]
ylims = [
    [(-0.06, 1.26), (-0.107, 1.013), (-0.119, 0.572)],
    [(-0.049, 1.15), (-0.062, 1.047), (-0.064, 0.975)],
    [(-0.08, 1.262), (-0.071, 1.036), (-0.05, 0.543)],
]
legend_locs = [
    ["upper left", "upper right", "upper right"],
    ["lower right", "lower left", "lower left"],
    ["upper left", "upper right", "upper right"],
]

palette = sns.color_palette("tab10", 8)
x = np.array(thresholds)

fig, axes = plt.subplots(3, 3, figsize=(15.02, 15.0))
fig.subplots_adjust(left=0.041, right=0.987, bottom=0.041, top=0.974, wspace=0.177, hspace=0.215)

for i, split in enumerate(splits):
    for j, curve in enumerate(curves):
        ax = axes[i, j]
        means, stds, aucs = panel_data[i][j]
        for k in range(8):
            m = np.array(means[k], dtype=float)
            s = np.array(stds[k], dtype=float)
            ok = ~np.isnan(m)
            sns.lineplot(x=x[ok], y=m[ok], ax=ax, color=palette[k], alpha=0.8, lw=1.5,
                         estimator=None, sort=False,
                         label="Class %d (AUC = %.2f)" % (k, aucs[k]))
            ax.fill_between(x[ok], m[ok] - s[ok], m[ok] + s[ok], color=palette[k], alpha=0.2)
        m = np.array(means[8], dtype=float)
        s = np.array(stds[8], dtype=float)
        sns.lineplot(x=x, y=m, ax=ax, color="black", lw=2.5, estimator=None, sort=False,
                     label="Average (AUC = %.2f)" % aucs[8])
        ax.fill_between(x, m - s, m + s, color="black", alpha=0.3)

        ax.set_xlim(-0.05, 1.05)
        ax.set_ylim(*ylims[i][j])
        ax.set_title(f"{split} - {curve}", fontsize=12)
        ax.set_xlabel("Threshold")
        ax.set_ylabel(ylabels[j])
        ax.grid(True)
        ax.legend(loc=legend_locs[i][j])

fig.savefig("out.png", dpi=177.1)
